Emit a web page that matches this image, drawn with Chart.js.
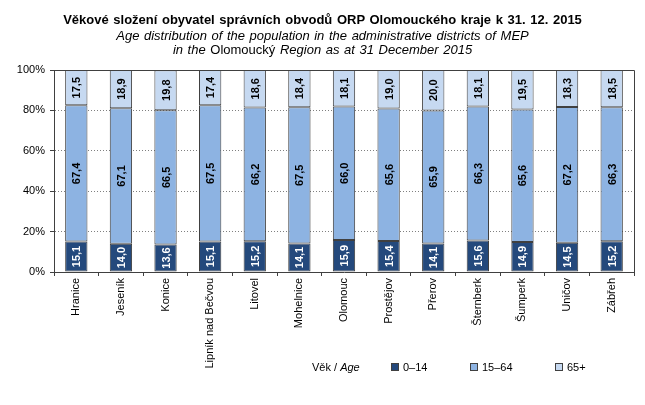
<!DOCTYPE html>
<html>
<head>
<meta charset="utf-8">
<script src="https://cdn.jsdelivr.net/npm/chart.js@4/dist/chart.umd.min.js"></script>
<style>
  html, body { margin:0; padding:0; background:#fff; }
  #wrap { position:relative; width:645px; height:405px; font-family:"Liberation Sans", Arial, sans-serif; color:#000; }
  #c { position:absolute; left:0; top:0; }
  .t { position:absolute; white-space:nowrap; left:0; width:645px; text-align:center; font-size:13px; line-height:15px; word-spacing:1px; }
  .leg { position:absolute; top:361px; font-size:11px; white-space:nowrap; }
  .sq { display:inline-block; width:6px; height:6px; border:1px solid #404040; vertical-align:middle; margin-right:4px; position:relative; top:-1px; }
</style>
</head>
<body>
<div id="wrap">
  <canvas id="c" width="645" height="405"></canvas>
  <div class="t" style="top:12px; font-weight:bold;">Věkové složení obyvatel správních obvodů ORP Olomouckého kraje k 31. 12. 2015</div>
  <div class="t" style="top:27.5px; font-style:italic;">Age distribution of the population in the administrative districts of MEP</div>
  <div class="t" style="top:41.5px;"><i>in the</i> Olomoucký <i>Region as at 31 December 2015</i></div>
  <div class="leg" style="left:312px;">Věk / <i>Age</i></div>
  <div class="leg" style="left:391px;"><span class="sq" style="background:#24497C"></span>0–14</div>
  <div class="leg" style="left:470px;"><span class="sq" style="background:#8DB3E2"></span>15–64</div>
  <div class="leg" style="left:555px;"><span class="sq" style="background:#C6D9F1"></span>65+</div>
</div>
<script>
const categories = ["Hranice","Jeseník","Konice","Lipník nad Bečvou","Litovel","Mohelnice","Olomouc","Prostějov","Přerov","Šternberk","Šumperk","Uničov","Zábřeh"];
const age0_14  = [15.1, 14.0, 13.6, 15.1, 15.2, 14.1, 15.9, 15.4, 14.1, 15.6, 14.9, 14.5, 15.2];
const age15_64 = [67.4, 67.1, 66.5, 67.5, 66.2, 67.5, 66.0, 65.6, 65.9, 66.3, 65.6, 67.2, 66.3];
const age65    = [17.5, 18.9, 19.8, 17.4, 18.6, 18.4, 18.1, 19.0, 20.0, 18.1, 19.5, 18.3, 18.5];
const seriesNames = ["0–14", "15–64", "65+"];
const yTicks = [0, 20, 40, 60, 80, 100];

const colors = ["#24497C", "#8DB3E2", "#C6D9F1"];
const labelColors = ["#ffffff", "#000000", "#000000"];

const frame = {
  id: 'frame',
  afterDraw(chart) {
    const {ctx, chartArea:a} = chart;
    ctx.save();
    ctx.strokeStyle = '#404040';
    ctx.lineWidth = 1;
    ctx.setLineDash([]);
    ctx.beginPath();
    ctx.moveTo(Math.round(a.left)+0.5, Math.round(a.top)+0.5);
    ctx.lineTo(Math.round(a.right)+0.5, Math.round(a.top)+0.5);
    ctx.lineTo(Math.round(a.right)+0.5, Math.round(a.bottom)+0.5);
    ctx.stroke();
    ctx.restore();
  }
};

const valueLabels = {
  id: 'valueLabels',
  afterDatasetsDraw(chart) {
    const ctx = chart.ctx;
    ctx.save();
    ctx.font = 'bold 11px "Liberation Sans", Arial, sans-serif';
    ctx.textAlign = 'center';
    ctx.textBaseline = 'middle';
    chart.data.datasets.forEach((ds, di) => {
      const meta = chart.getDatasetMeta(di);
      meta.data.forEach((el, i) => {
        const p = el.getProps(['x','y','base'], true);
        const cy = (p.y + p.base) / 2;
        ctx.save();
        ctx.translate(p.x + 1, cy);
        ctx.rotate(-Math.PI / 2);
        ctx.fillStyle = labelColors[di];
        ctx.fillText(ds.data[i].toFixed(1).replace('.', ','), 0, 0);
        ctx.restore();
      });
    });
    ctx.restore();
  }
};

new Chart(document.getElementById('c'), {
  type: 'bar',
  data: {
    labels: categories,
    datasets: [age0_14, age15_64, age65].map((d, i) => ({
      label: seriesNames[i],
      data: d,
      backgroundColor: colors[i],
      borderColor: '#404040',
      borderWidth: 1,
      borderSkipped: false,
      categoryPercentage: 1.0,
      barPercentage: 0.5
    }))
  },
  options: {
    responsive: false,
    animation: false,
    devicePixelRatio: 1,
    layout: { padding: { left: 0, right: 11, top: 70, bottom: 0 } },
    plugins: { legend: { display: false }, tooltip: { enabled: false }, title: { display: false } },
    scales: {
      x: {
        stacked: true,
        offset: true,
        grid: { offset: true, drawOnChartArea: false, drawTicks: true, tickLength: 4, color: '#404040' },
        border: { display: true, color: '#404040', width: 1 },
        ticks: { maxRotation: 90, minRotation: 90, padding: 2, color: '#000', font: { family: '"Liberation Sans", Arial, sans-serif', size: 11 }, autoSkip: false },
        afterFit(s) { s.height = 133; }
      },
      y: {
        stacked: true,
        min: 0, max: 100,
        afterBuildTicks(s) { s.ticks = yTicks.map(v => ({ value: v })); },
        grid: {
          color: c => (c.tick && (c.tick.value === 0 || c.tick.value === 100)) ? 'rgba(0,0,0,0)' : '#808080',
          tickColor: '#404040',
          tickBorderDash: [],
          tickLength: 4,
          drawTicks: true
        },
        border: { display: true, color: '#404040', width: 1, dash: [1, 2] },
        ticks: { padding: 5, color: '#000', callback: v => v + '%', font: { family: '"Liberation Sans", Arial, sans-serif', size: 11 } },
        afterFit(s) { s.width = 54; }
      }
    }
  },
  plugins: [frame, valueLabels]
});
</script>
</body>
</html>
